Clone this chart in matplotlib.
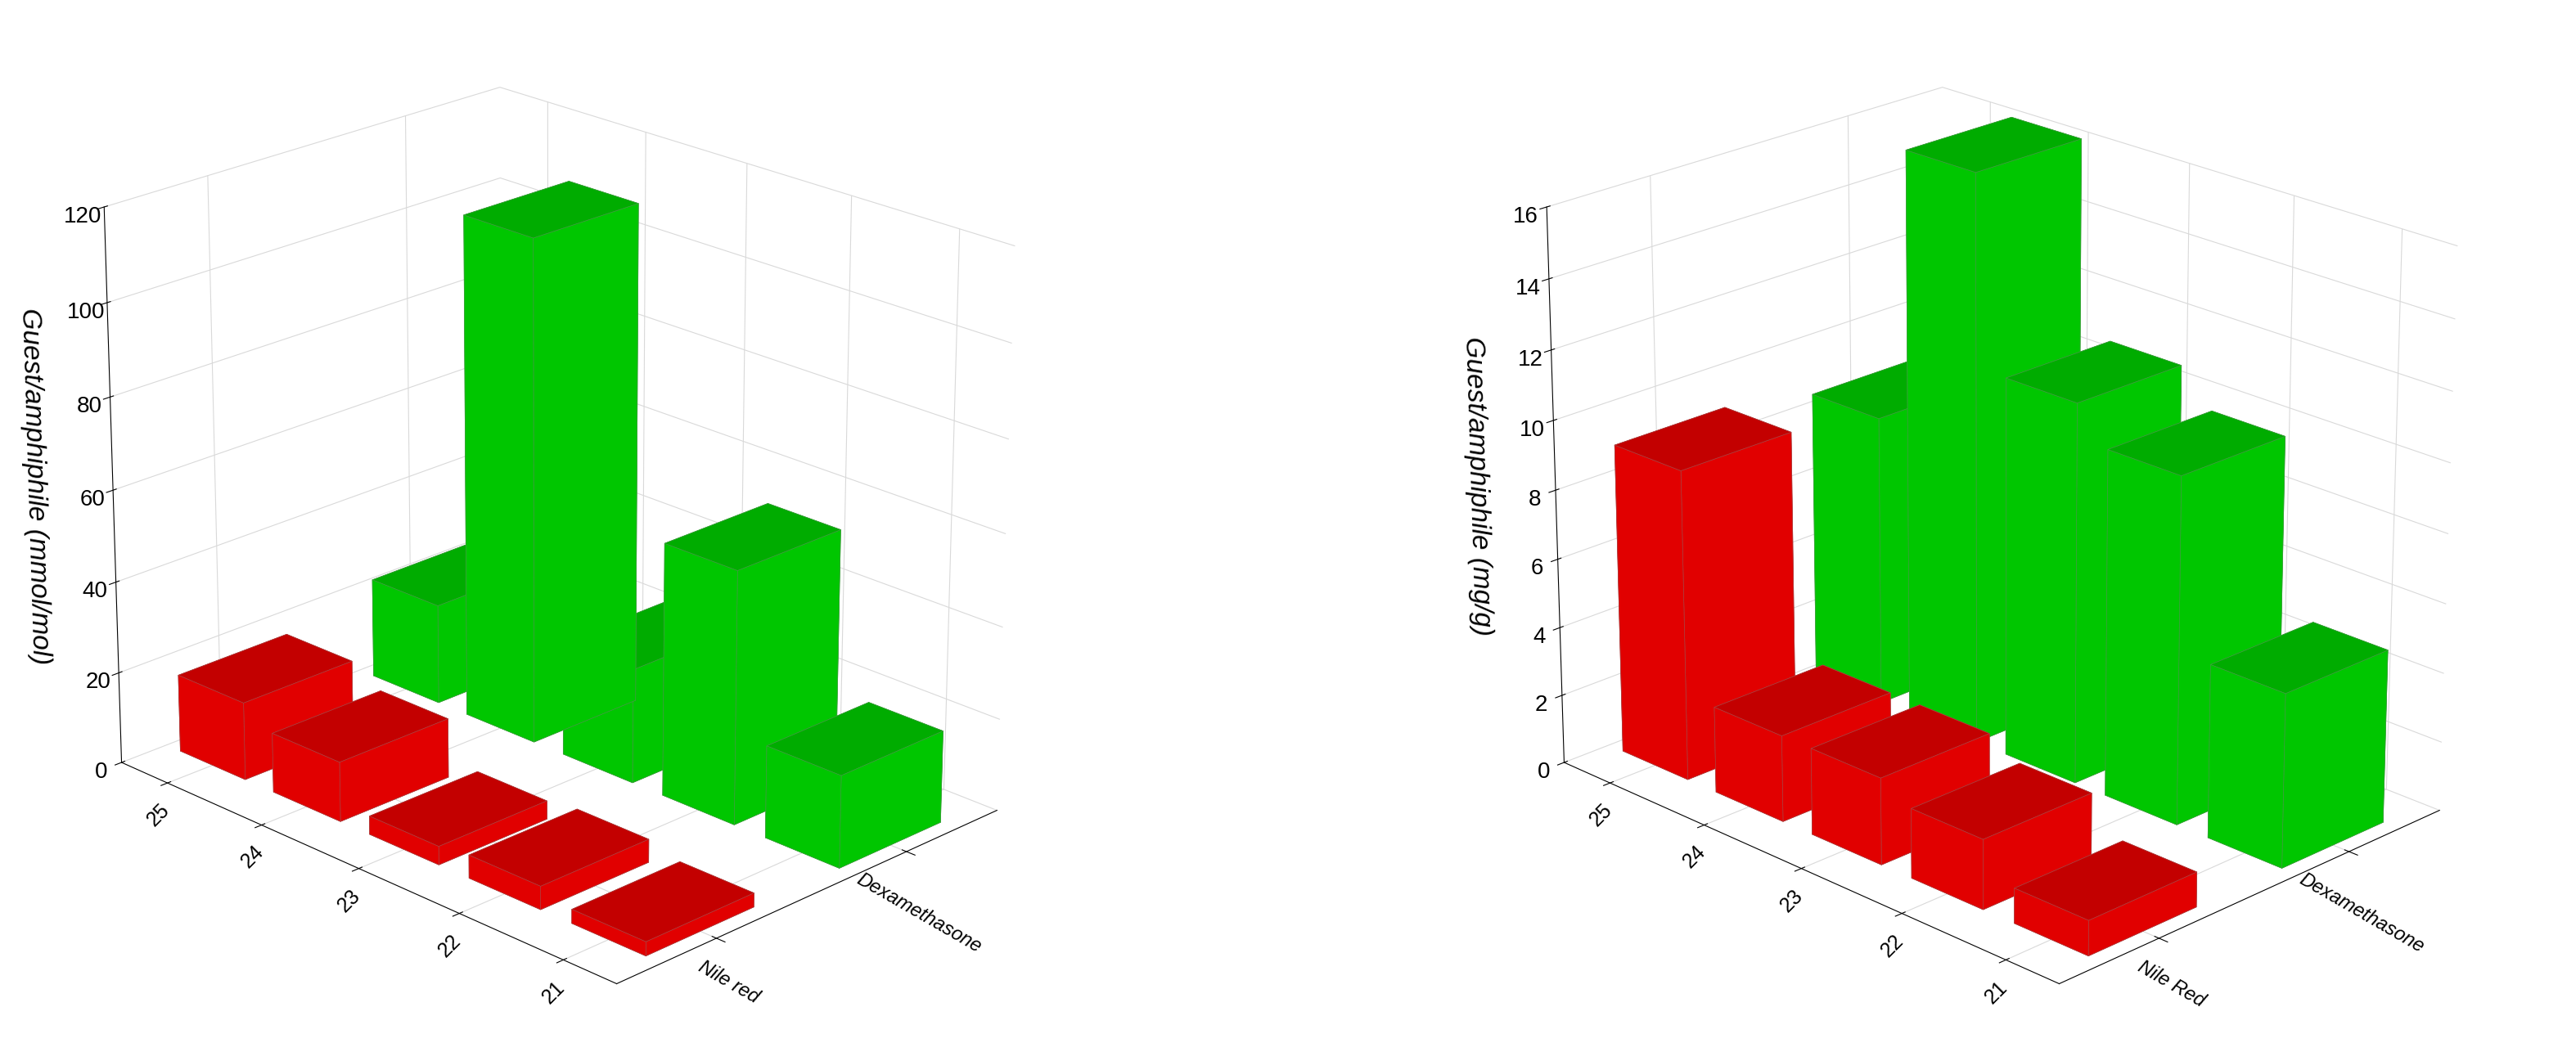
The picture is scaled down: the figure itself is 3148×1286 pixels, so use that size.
import numpy as np
import matplotlib.pyplot as plt
from mpl_toolkits.mplot3d import Axes3D  # noqa

compounds = ["21", "22", "23", "24", "25"]
left_red = [3, 5, 4, 13, 17]        # Nile red, mmol/mol
left_green = [20, 55, 25, 110, 22]  # Dexamethasone
right_red = [1, 2, 2.5, 2.5, 9]     # Nile Red, mg/g
right_green = [5, 10, 11, 16.5, 8.5]

plt.rcParams['font.family'] = ['Liberation Sans', 'DejaVu Sans']

fig = plt.figure(figsize=(31.48, 12.86), dpi=100)


def panel(rect, red, green, cats, zmax, zstep, zlabel):
    ax = fig.add_axes(rect, projection='3d')
    n = len(compounds)
    y = np.arange(n)
    w, d = 0.55, 0.7
    # x = category, y = compound; draw back rows first
    for i in range(n):
        ax.bar3d(1 - w / 2, y[i] - d / 2, 0, w, d, green[i], color='#00e000',
                 edgecolor='#40a040', linewidth=0.5, shade=True)
        ax.bar3d(0 - w / 2, y[i] - d / 2, 0, w, d, red[i], color='#ff0000',
                 edgecolor='#b04040', linewidth=0.5, shade=True)
    ax.set_xlim(-0.5, 1.5)
    ax.set_ylim(-0.5, n - 0.5)
    ax.set_zlim(0, zmax)
    ax.set_yticks(y)
    ax.set_yticklabels(compounds, rotation=45, fontsize=18)
    ax.set_xticks([0, 1])
    ax.set_xticklabels(cats, rotation=-30, fontsize=17, style='italic')
    ax.set_zticks(np.arange(0, zmax + 0.1, zstep))
    ax.tick_params(axis='z', labelsize=20)
    ax.set_zlabel(zlabel, fontsize=24, style='italic', labelpad=22)
    ax.view_init(elev=22, azim=-135)
    try:
        ax.zaxis.set_ticks_position('upper')
        ax.zaxis.set_label_position('upper')
    except Exception:
        pass
    for a in (ax.xaxis, ax.yaxis, ax.zaxis):
        a.set_pane_color((1, 1, 1, 0))
        a._axinfo['grid']['color'] = (0.85, 0.85, 0.85, 1)
    ax.set_box_aspect((1.0, 1.3, 1.1))
    return ax


panel([0.0, 0.0, 0.42, 1.0], left_red, left_green, ["Nile red", "Dexamethasone"],
      120, 20, "Guest/amphiphile (mmol/mol)")
panel([0.56, 0.0, 0.42, 1.0], right_red, right_green, ["Nile Red", "Dexamethasone"],
      16, 2, "Guest/amphiphile (mg/g)")

fig.savefig("out.png", dpi=100)
